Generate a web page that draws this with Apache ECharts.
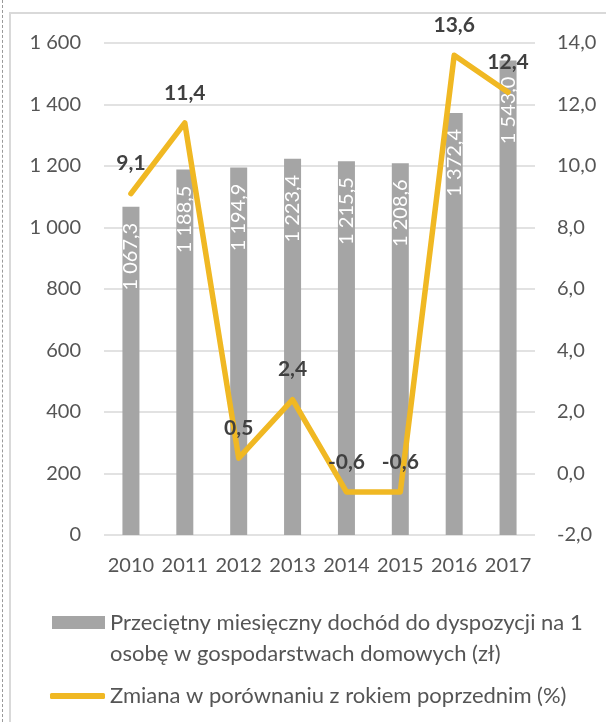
<!DOCTYPE html>
<html>
<head>
<meta charset="utf-8">
<script src="https://cdn.jsdelivr.net/npm/echarts@6/dist/echarts.min.js"></script>
<style>
  body { margin: 0; background: #fff; overflow: hidden; }
  .frame-dash { position: absolute; left: 2px; top: 0; width: 0; height: 722px; border-left: 1px dashed #9a9a9a; }
  .frame-box { position: absolute; left: 9px; top: 12px; width: 640px; height: 760px; border: 2px solid #d9d9d9; }
  #chart { position: absolute; left: 0; top: 0; width: 606px; height: 722px; }
</style>
</head>
<body>
<div class="frame-dash"></div>
<div class="frame-box"></div>
<div id="chart"></div>
<script>
const years = ['2010', '2011', '2012', '2013', '2014', '2015', '2016', '2017']
// przeciętny miesięczny dochód (zł)
const income = [1067.3, 1188.5, 1194.9, 1223.4, 1215.5, 1208.6, 1372.4, 1543.0]
// zmiana r/r (%)
const change = [9.1, 11.4, 0.5, 2.4, -0.6, -0.6, 13.6, 12.4]

const barName = 'Przeciętny miesięczny dochód do dyspozycji na 1 osobę w gospodarstwach domowych (zł)'
const lineName = 'Zmiana w porównaniu z rokiem poprzednim (%)'

const font = 'Lato'
const axisColor = '#555555'

function plNumber(v, digits) {
  const parts = v.toFixed(digits).split('.')
  const intPart = parts[0].replace(/\B(?=(\d{3})+(?!\d))/g, ' ')
  return parts.length > 1 ? intPart + ',' + parts[1] : intPart
}

const chart = echarts.init(document.getElementById('chart'))

const option = {
  animation: false,
  grid: { left: 104, right: 71, top: 43, bottom: 187 },
  legend: [
    {
      data: [barName],
      left: 47,
      top: 571,
      itemWidth: 53,
      itemHeight: 13,
      icon: 'rect',
      selectedMode: false,
      // pusta pierwsza linia -> ikona wyrównana do pierwszego wiersza tekstu
      formatter: function() {
        return '\nPrzeciętny miesięczny dochód do dyspozycji na 1\nosobę w gospodarstwach domowych (zł)'
      },
      textStyle: {
        color: axisColor,
        fontFamily: font,
        fontSize: 22,
        lineHeight: 31
      }
    },
    {
      data: [lineName],
      left: 45,
      top: 680,
      itemWidth: 55,
      itemHeight: 6,
      icon: 'roundRect',
      selectedMode: false,
      textStyle: {
        color: axisColor,
        fontFamily: font,
        fontSize: 22
      }
    }
  ],
  xAxis: {
    type: 'category',
    data: years,
    axisLine: { show: false },
    axisTick: { show: false },
    axisLabel: {
      interval: 0,
      color: axisColor,
      fontFamily: font,
      fontSize: 20,
      margin: 21
    }
  },
  yAxis: [
    {
      type: 'value',
      min: 0,
      max: 1600,
      interval: 200,
      axisLine: { show: false },
      axisTick: { show: false },
      axisLabel: {
        color: axisColor,
        fontFamily: font,
        fontSize: 20,
        margin: 23,
        formatter: v => plNumber(v, 0)
      },
      splitLine: { lineStyle: { color: '#d9d9d9', width: 1.5 } }
    },
    {
      type: 'value',
      min: -2,
      max: 14,
      interval: 2,
      axisLine: { show: false },
      axisTick: { show: false },
      splitLine: { show: false },
      axisLabel: {
        color: axisColor,
        fontFamily: font,
        fontSize: 20,
        margin: 22,
        formatter: v => plNumber(v, 1)
      }
    }
  ],
  series: [
    {
      name: barName,
      type: 'bar',
      data: income,
      barWidth: 17,
      itemStyle: { color: '#a5a5a5' },
      label: {
        show: true,
        position: 'insideTop',
        distance: 16,
        rotate: 90,
        align: 'right',
        verticalAlign: 'middle',
        color: '#fff',
        fontFamily: font,
        fontSize: 20,
        formatter: p => plNumber(p.value, 1)
      }
    },
    {
      name: lineName,
      type: 'line',
      yAxisIndex: 1,
      data: change,
      symbol: 'circle',
      symbolSize: 1,
      showSymbol: true,
      itemStyle: { color: '#f0b823' },
      lineStyle: { color: '#f0b823', width: 5.5, cap: 'round', join: 'round' },
      label: {
        show: true,
        position: 'top',
        distance: 19,
        color: '#404040',
        fontFamily: font,
        fontWeight: 'bold',
        fontSize: 21,
        formatter: p => plNumber(p.value, 1)
      }
    }
  ]
}

chart.setOption(option)
</script>
</body>
</html>
